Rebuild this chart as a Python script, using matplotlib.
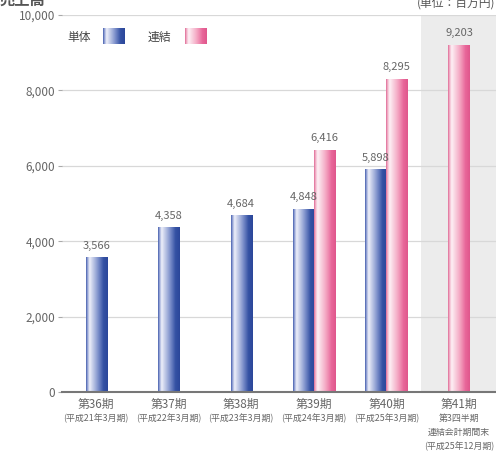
import matplotlib
matplotlib.use("Agg")
import matplotlib.pyplot as plt
import numpy as np
from matplotlib.colors import LinearSegmentedColormap

plt.rcParams['font.family'] = ['Noto Sans CJK JP', 'DejaVu Sans']

categories = ["第36期\n(平成21年3月期)", "第37期\n(平成22年3月期)", "第38期\n(平成23年3月期)",
              "第39期\n(平成24年3月期)", "第40期\n(平成25年3月期)",
              "第41期\n第3四半期\n連結会計期間末\n(平成25年12月期)"]
tankai = [3566, 4358, 4684, 4848, 5898, None]   # 単体
renketsu = [None, None, None, 6416, 8295, 9203]  # 連結
yticks = [0, 2000, 4000, 6000, 8000, 10000]

blue_cmap = LinearSegmentedColormap.from_list(
    "b", [(0, '#4a62b0'), (0.07, '#9aa8d8'), (0.16, '#eef0fa'), (0.55, '#7f92cc'), (0.8, '#3552a4'), (1, '#2b479a')])
pink_cmap = LinearSegmentedColormap.from_list(
    "p", [(0, '#e06e98'), (0.07, '#f2b3ca'), (0.16, '#fdf1f6'), (0.55, '#f4a5c1'), (0.8, '#e8679a'), (1, '#e0578c')])
grad = np.linspace(0, 1, 64).reshape(1, -1)

fig = plt.figure(figsize=(4.96, 4.59), dpi=100)
ax = fig.add_axes([62/496, 1-392/459, 1-62/496, 377/459])

w = 0.29
n = len(categories)
ax.axvspan(4.48, 5.6, ymin=0, ymax=1, color='#ececec', zorder=0, lw=0)

txtc = '#666666'
for i in range(n):
    b, p = tankai[i], renketsu[i]
    if b is not None and p is not None:
        items = [(i - w/2, b, blue_cmap), (i + w/2, p, pink_cmap)]
    elif b is not None:
        items = [(i, b, blue_cmap)]
    else:
        items = [(i, p, pink_cmap)]
    for xc, v, cm in items:
        ax.imshow(grad, cmap=cm, aspect='auto', extent=[xc - w/2, xc + w/2, 0, v], zorder=3, interpolation='bilinear')
        ax.text(xc, v + 180, f"{v:,}", ha='center', va='bottom', fontsize=8, color=txtc, zorder=4)

ax.set_xlim(-0.47, 5.51)
ax.set_ylim(0, 10000)
ax.set_yticks(yticks)
ax.set_yticklabels([f"{t:,}" for t in yticks], fontsize=8.5, color=txtc)
ax.yaxis.grid(True, color='#d8d8d8', lw=0.9, zorder=1)
ax.set_axisbelow(True)
ax.tick_params(axis='y', length=3, color='#aaaaaa', pad=2)
ax.set_xticks(range(n))
ax.set_xticklabels([])
ax.tick_params(axis='x', length=0)
for s in ['top', 'right', 'left']:
    ax.spines[s].set_visible(False)
ax.spines['bottom'].set_color('#777777')
ax.spines['bottom'].set_linewidth(1.5)
ax.spines['bottom'].set_zorder(5)

for i, lab in enumerate(categories):
    lines = lab.split("\n")
    ax.annotate(lines[0], xy=(i, 0), xycoords='data', xytext=(0, -4.5), textcoords='offset points',
                ha='center', va='top', fontsize=8.5, color=txtc)
    for j, l in enumerate(lines[1:]):
        ax.annotate(l, xy=(i, 0), xycoords='data', xytext=(0, -15.5 - j*10.2), textcoords='offset points',
                    ha='center', va='top', fontsize=6.4, color=txtc)

# legend
fig.text(67/496, 1-37/459, "単体", fontsize=8.5, color='#444444', va='center', ha='left')
fig.text(148/496, 1-37/459, "連結", fontsize=8.5, color='#444444', va='center', ha='left')
for x0, cm in [(103, blue_cmap), (185, pink_cmap)]:
    la = fig.add_axes([x0/496, 1-44/459, 22/496, 16/459])
    la.imshow(grad, cmap=cm, aspect='auto', interpolation='bilinear')
    la.axis('off')

# header texts (cut off at the top edge, as in the reference)
fig.text(0.0, 1-5/459, "売上高", fontsize=11, color='#555555', va='baseline', ha='left', fontweight='bold')
fig.text(495/496, 1-7/459, "(単位：百万円)", fontsize=8.5, color='#555555', va='baseline', ha='right')

fig.savefig("out.png", dpi=100)
